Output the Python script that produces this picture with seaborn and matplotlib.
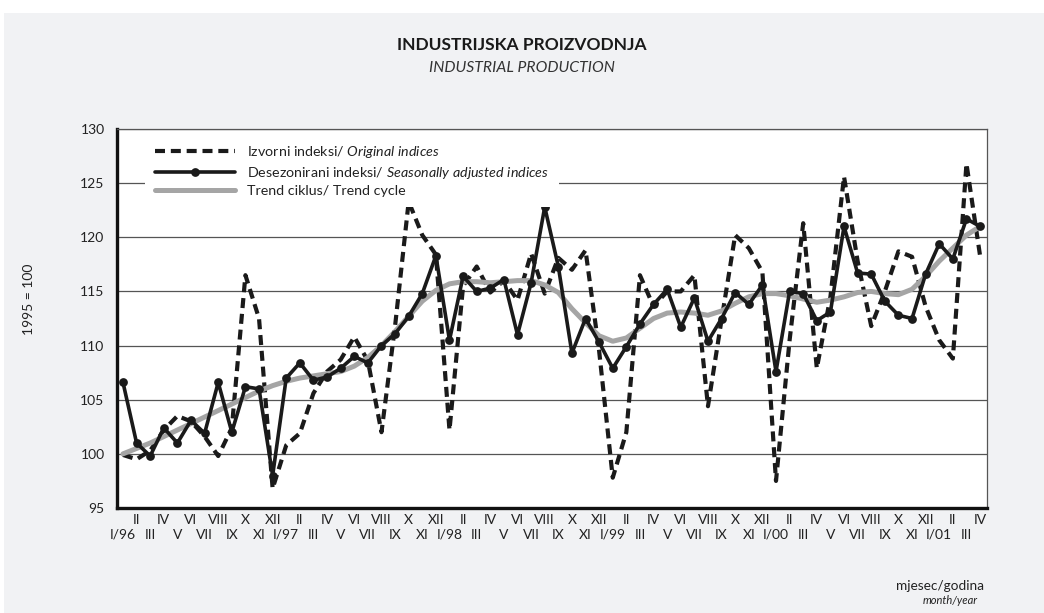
import matplotlib
matplotlib.use("Agg")
import matplotlib.pyplot as plt
import seaborn as sns
import numpy as np
import pandas as pd
from matplotlib.patches import Rectangle

# month labels (roman numerals) and years, I/96 .. IV/01
months = ["I", "II", "III", "IV", "V", "VI", "VII", "VIII", "IX", "X", "XI", "XII"]
years = ["96", "97", "98", "99", "00", "01"]
n_months = 64

# Izvorni indeksi / Original indices
original = [99.9, 99.5, 100.3, 102.2, 103.5, 103.0, 101.6, 99.8, 102.4, 116.5, 112.5, 96.8,
            100.8, 101.9, 105.6, 107.6, 108.7, 110.8, 108.6, 102.0, 111.8, 123.3, 120.2, 118.4,
            102.2, 115.5, 117.3, 114.9, 116.0, 114.2, 118.5, 114.8, 118.1, 117.0, 118.8, 109.5,
            97.8, 102.0, 116.5, 113.6, 115.0, 115.0, 116.5, 104.4, 112.4, 120.2, 119.0, 116.8,
            97.5, 110.5, 121.3, 107.9, 114.5, 125.6, 117.8, 111.8, 115.0, 118.7, 118.2, 113.6,
            110.5, 108.8, 126.8, 118.3]

# Desezonirani indeksi / Seasonally adjusted indices
adjusted = [106.6, 101.0, 99.8, 102.4, 101.0, 103.1, 101.9, 106.6, 102.0, 106.2, 106.0, 98.0,
            107.0, 108.4, 106.8, 107.1, 107.9, 109.0, 108.4, 110.0, 111.1, 112.7, 114.8, 118.3,
            110.5, 116.4, 115.0, 115.3, 116.1, 111.0, 115.8, 122.8, 117.3, 109.3, 112.5, 110.3,
            107.9, 109.9, 112.0, 113.8, 115.2, 111.7, 114.4, 110.4, 112.5, 114.9, 113.8, 115.6,
            107.6, 115.0, 114.8, 112.3, 113.1, 121.0, 116.7, 116.6, 114.1, 112.8, 112.5, 116.6,
            119.4, 118.0, 121.7, 121.0]

# Trend ciklus / Trend cycle
trend = [100.0, 100.5, 101.0, 101.6, 102.2, 102.8, 103.4, 104.0, 104.6, 105.2, 105.8, 106.3,
         106.7, 107.0, 107.2, 107.4, 107.6, 108.1, 108.9, 110.0, 111.3, 112.7, 114.1, 115.1,
         115.7, 115.9, 115.9, 115.8, 115.9, 116.0, 116.0, 115.6, 114.9, 113.4, 112.1, 110.9,
         110.4, 110.7, 111.6, 112.5, 113.0, 113.1, 113.0, 112.8, 113.2, 113.9, 114.5, 114.8,
         114.8, 114.6, 114.3, 114.0, 114.2, 114.5, 114.9, 115.0, 114.8, 114.7, 115.2, 116.4,
         117.8, 119.0, 120.2, 121.0]

tick_labels = []
for i in range(n_months):
    m = months[i % 12]
    if i % 12 == 0:
        m = m + "/" + years[i // 12]
    tick_labels.append(m)

df = pd.DataFrame({"t": range(n_months), "original": original,
                   "adjusted": adjusted, "trend": trend})

sns.set_theme(style="white")
plt.rcParams["font.family"] = ["Lato", "DejaVu Sans"]
plt.rcParams["mathtext.fontset"] = "custom"
plt.rcParams["mathtext.rm"] = "Lato"
plt.rcParams["mathtext.it"] = "Lato:italic"

fig = plt.figure(figsize=(10.44, 6.13), dpi=100)
fig.patch.set_facecolor("white")
fig.patches.append(Rectangle((0.004, 0), 0.996, 1 - 13 / 613, transform=fig.transFigure,
                             facecolor="#f1f2f4", edgecolor="none", zorder=-10))

ax = fig.add_axes([117 / 1044, 1 - 508 / 613, 870 / 1044, 379 / 613])
ax.set_facecolor("white")

sns.lineplot(data=df, x="t", y="original", ax=ax, color="#1a1a1a", linewidth=3.0,
             linestyle=(0, (2.4, 1.4)), label=r"Izvorni indeksi/ $\it{Original\ indices}$",
             zorder=3)
sns.lineplot(data=df, x="t", y="trend", ax=ax, color="#a5a5a5", linewidth=3.6,
             label="Trend ciklus/ Trend cycle", zorder=4)
sns.lineplot(data=df, x="t", y="adjusted", ax=ax, color="#1a1a1a", linewidth=2.6,
             marker="o", markersize=6.3, markeredgewidth=0,
             label=r"Desezonirani indeksi/ $\it{Seasonally\ adjusted\ indices}$", zorder=5)

ax.set_xlim(-0.44, 63.51)
ax.set_ylim(95, 130)
ax.set_yticks(range(95, 131, 5))
ax.set_xticks(range(n_months))
ax.set_xticklabels(tick_labels)
ax.tick_params(axis="both", length=0, labelsize=10, colors="#222222")
ax.tick_params(axis="y", pad=9)
for i, tk in enumerate(ax.xaxis.get_major_ticks()):
    tk.set_pad(4 if i % 2 else 15)

ax.yaxis.grid(True, color="#555555", linewidth=0.9)
ax.xaxis.grid(False)
ax.set_axisbelow(True)

for side in ["left", "bottom"]:
    ax.spines[side].set_color("#111111")
    ax.spines[side].set_linewidth(2.4)
for side in ["top", "right"]:
    ax.spines[side].set_color("#555555")
    ax.spines[side].set_linewidth(0.9)

ax.set_xlabel("")
ax.set_ylabel("1995 = 100", fontsize=10, color="#222222")
ax.yaxis.set_label_coords(-0.094, 0.55)

handles, labels = ax.get_legend_handles_labels()
order = [0, 2, 1]
leg = ax.legend([handles[k] for k in order], [labels[k] for k in order],
                loc="upper left", bbox_to_anchor=(28 / 870, 1 - 5 / 379), fontsize=10.3,
                handlelength=5.6, handletextpad=0.84, labelspacing=0.33,
                borderpad=0.7, borderaxespad=0, frameon=True, fancybox=False)
leg.get_frame().set_facecolor("white")
leg.get_frame().set_edgecolor("none")
leg.get_frame().set_alpha(1)
for t in leg.get_texts():
    t.set_color("#222222")

fig.text(0.5, 1 - 45 / 613, "INDUSTRIJSKA PROIZVODNJA", ha="center", va="center",
         fontsize=12.5, fontweight="bold", color="#1a1a1a")
fig.text(0.5, 1 - 68 / 613, "INDUSTRIAL PRODUCTION", ha="center", va="center",
         fontsize=11.3, style="italic", color="#333333")
fig.text(940 / 1044, 1 - 586 / 613, "mjesec/godina", ha="center", va="center",
         fontsize=9.8, color="#222222")
fig.text(978 / 1044, 1 - 601 / 613, "month/year", ha="right", va="center",
         fontsize=8, style="italic", color="#222222")

fig.savefig("out.png", dpi=100, facecolor=fig.get_facecolor())
